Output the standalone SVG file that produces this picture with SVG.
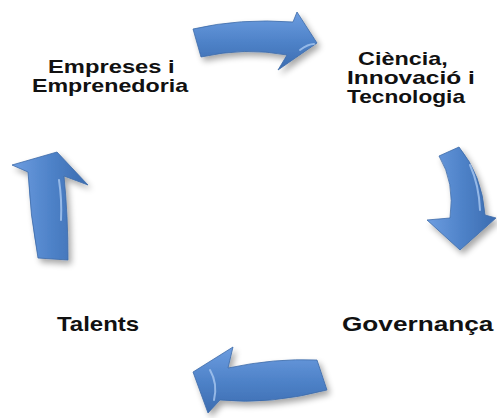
<svg xmlns="http://www.w3.org/2000/svg" width="497" height="418" viewBox="0 0 497 418">
<style>
.lbl{font-family:"Liberation Sans",Arial,sans-serif;font-weight:bold;fill:#111;}
.s18{font-size:18px;}
.s20{font-size:20px;}
.arr{stroke:#3d6ba8;stroke-width:0.8;filter:url(#sh);}
.hl{fill:none;stroke:#a9c8f0;stroke-width:2;stroke-linecap:round;opacity:0.8;}
</style>
<defs>
<linearGradient id="gH" x1="0" y1="0" x2="0" y2="1">
<stop offset="0" stop-color="#6d9de0"/>
<stop offset="0.5" stop-color="#4f83c9"/>
<stop offset="1" stop-color="#3b6cb0"/>
</linearGradient>
<linearGradient id="gV" x1="0" y1="0" x2="1" y2="0">
<stop offset="0" stop-color="#6d9de0"/>
<stop offset="0.5" stop-color="#4f83c9"/>
<stop offset="1" stop-color="#3b6cb0"/>
</linearGradient>
<filter id="sh" x="-20%" y="-20%" width="150%" height="150%">
<feGaussianBlur in="SourceAlpha" stdDeviation="3"/>
<feOffset dx="3" dy="4" result="b"/>
<feComponentTransfer><feFuncA type="linear" slope="0.35"/></feComponentTransfer>
<feMerge><feMergeNode/><feMergeNode in="SourceGraphic"/></feMerge>
</filter>
</defs>
<g id="connectors">
<g id="arrow-top">
<path class="arr" fill="url(#gH)" d="M193,29 Q240,18 293,22 L297,12 L317,43 L278,70 L287,55 Q245,47 201,57 Z"/>
<path class="hl" d="M300,50 Q308,44 314,44"/>
</g>
<g id="arrow-right">
<path class="arr" fill="url(#gV)" d="M439,156 L459,147 Q482,175 485,215 L496,218 L460,250 L427,220 L450,218 Q455,182 439,156 Z"/>
<path class="hl" d="M470,165 Q479,185 480,210"/>
</g>
<g id="arrow-bottom">
<path class="arr" fill="url(#gH)" d="M193,372 L233,347 L228,368 Q275,358 317,360 L327,390 Q270,405 220,400 L208,413 Z"/>
<path class="hl" d="M210,370 Q218,384 214,400"/>
</g>
<g id="arrow-left">
<path class="arr" fill="url(#gV)" d="M57,152 L88,185 L64,176 Q68,215 68,260 L38,258 Q30,215 28,172 L12,165 Z"/>
<path class="hl" d="M59,180 Q62,200 61,220"/>
</g>
</g>
<g id="node-empreses">
<text class="lbl s18" transform="translate(48,73) scale(1.32,1)">Empreses i</text>
<text class="lbl s18" transform="translate(32,92) scale(1.29,1)">Emprenedoria</text>
</g>
<g id="node-ciencia">
<text class="lbl s18" transform="translate(358,65) scale(1.3,1)">Ciència,</text>
<text class="lbl s18" transform="translate(347,84) scale(1.36,1)">Innovació i</text>
<text class="lbl s18" transform="translate(347,103) scale(1.26,1)">Tecnologia</text>
</g>
<g id="node-governanca">
<text class="lbl s20" transform="translate(342,331) scale(1.31,1)">Governança</text>
</g>
<g id="node-talents">
<text class="lbl s20" transform="translate(57,331) scale(1.2,1)">Talents</text>
</g>
</svg>
